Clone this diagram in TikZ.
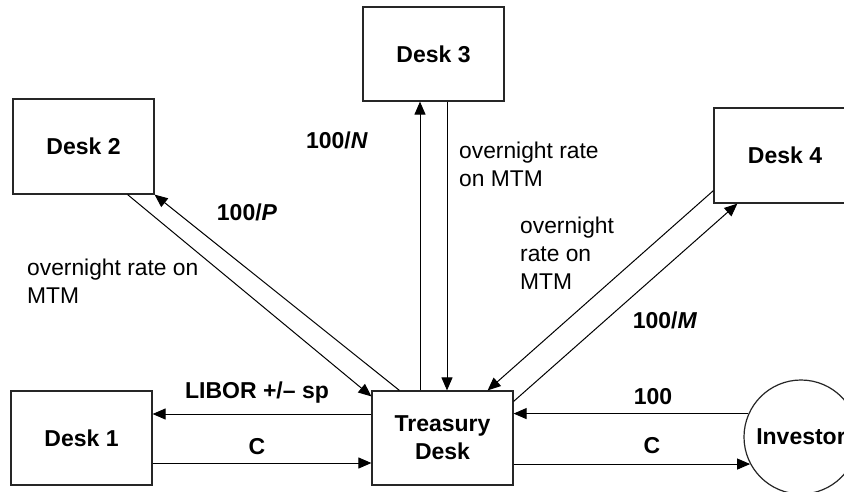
\documentclass[tikz,border=0pt]{standalone}
\usepackage{fontspec}
\setmainfont{Liberation Sans}
\usetikzlibrary{arrows.meta,calc}
\begin{document}
\begin{tikzpicture}[x=1pt,y=-1pt,
  box/.style={draw=black!85,line width=1.2pt,minimum width=141pt,minimum height=94pt,inner sep=0pt,
    font=\fontsize{23}{28}\selectfont\bfseries,align=center},
  lbl/.style={inner sep=0pt,font=\fontsize{23}{28}\selectfont\bfseries},
  txt/.style={inner sep=0pt,font=\fontsize{22.8}{28}\selectfont,align=left,anchor=west},
  arr/.style={line width=1pt,-{Triangle[length=13pt,width=11pt]}}]
\useasboundingbox (0,0) rectangle (844,491);
\clip (0,0) rectangle (844,491);
\fill[white] (0,0) rectangle (844,491);
% nodes
\node[box] (d1) at (81.5,438) {Desk 1};
\node[box] (td) at (442.5,438) {Treasury\\Desk};
\node[box] (d3) at (433.5,54) {Desk 3};
\node[box,minimum height=95pt] (d2) at (83.5,146.5) {Desk 2};
\node[box,minimum width=142pt,minimum height=95pt] (d4) at (785,155.5) {Desk 4};
\node[draw=black!85,line width=1.2pt,circle,minimum size=114pt,inner sep=0pt,
  font=\fontsize{23}{28}\selectfont\bfseries] (inv) at (801,437) {Investor};
% helper coordinates
\coordinate (tdA) at ([yshift=24pt]td.west);
\coordinate (d1B) at ([yshift=-25pt]d1.east);
\coordinate (tdN) at ([xshift=-22.5pt]td.north);
\coordinate (d3S) at ([xshift=13.5pt]d3.south);
% Desk 1 <-> Treasury
\draw[arr] (tdA) -- (d1.east |- tdA);
\draw[arr] (d1B) -- (td.west |- d1B);
% Investor <-> Treasury
\draw[arr] (inv.156) -- (td.east |- inv.156);
\draw[arr] (td.east |- inv.208) -- (inv.208);
% Desk 3 <-> Treasury
\draw[arr] (tdN) -- (d3.south -| tdN);
\draw[arr] (d3S) -- (td.north -| d3S);
% Desk 2 <-> Treasury
\draw[arr] ([xshift=-27pt]d2.south east) -- ([yshift=-6pt]td.north west);
\draw[arr] ([xshift=28pt]td.north west) -- (d2.south east);
% Desk 4 <-> Treasury
\draw[arr] ([yshift=13pt]d4.south west) -- ([xshift=-26pt]td.north east);
\draw[arr] ([yshift=-11pt]td.north east) -- ([xshift=24pt]d4.south west);
% labels
\node[lbl] (l1) at (257,393) {LIBOR +/– sp};
\node[lbl] (l2) at (257,447) {C};
\node[lbl] (l3) at (653,397) {100};
\node[lbl] (l4) at (652,446) {C};
\node[lbl] (l5) at (337,140) {100/\textit{N}};
\node[lbl] (l6) at (247,212) {100/\textit{P}};
\node[lbl] (l7) at (665,320) {100/\textit{M}};
\node[txt] (t3) at (459,164) {overnight rate\\on MTM};
\node[txt] (t2) at (27,281) {overnight rate on\\MTM};
\node[txt] (t4) at (520,253) {overnight\\rate on\\MTM};
\end{tikzpicture}
\end{document}
